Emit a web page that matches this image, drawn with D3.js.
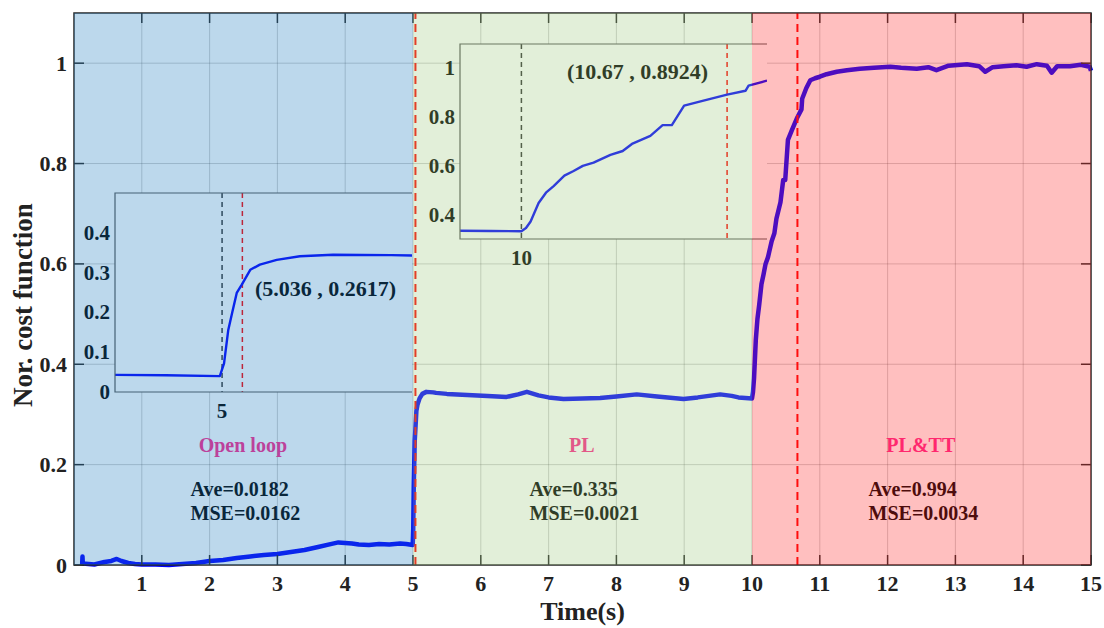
<!DOCTYPE html>
<html>
<head>
<meta charset="utf-8">
<script src="https://cdn.jsdelivr.net/npm/d3@7"></script>
<style>
  body { margin: 0; background: #fff; }
  text { font-family: "Liberation Serif", "Times New Roman", serif; font-weight: bold; }
</style>
</head>
<body>
<svg id="chart" width="1104" height="628"></svg>
<script>
// --- data ---
const timeS = [0.12, 0.125, 0.13, 0.30, 0.45, 0.55, 0.63, 0.70, 0.80, 0.90, 1.0, 1.2, 1.4, 1.6, 1.8, 2.0, 2.2, 2.4, 2.6, 2.8, 3.0,
  3.2, 3.4, 3.6, 3.8, 3.9, 4.0, 4.1, 4.2, 4.35, 4.5, 4.65, 4.81, 4.9, 4.996, 5.0035, 5.011, 5.018, 5.026, 5.035, 5.05,
  5.067, 5.097, 5.138, 5.197, 5.3, 5.34, 5.5, 5.8, 6.1, 6.38, 6.55, 6.68, 6.85, 7.0, 7.22, 7.5, 7.76, 8.0, 8.3, 8.6,
  8.99, 9.2, 9.53, 9.7, 9.8, 9.9, 10.0, 10.015, 10.03, 10.056, 10.08, 10.105, 10.14, 10.17, 10.2, 10.235, 10.29, 10.33,
  10.36, 10.42, 10.46, 10.49, 10.53, 10.59, 10.67, 10.73, 10.74, 10.80, 10.86, 10.93, 11.0, 11.1, 11.25, 11.4, 11.59,
  11.8, 12.04, 12.2, 12.43, 12.6, 12.72, 12.9, 13.17, 13.35, 13.44, 13.55, 13.71, 13.9, 14.05, 14.2, 14.35, 14.42, 14.5,
  14.69, 14.85, 14.98, 15.0];
const costValue = [0.0, 0.017, 0.003, 0.001, 0.006, 0.008, 0.012, 0.008, 0.004, 0.002, 0.001, 0.001, 0.0, 0.002, 0.004, 0.008, 0.010, 0.014, 0.017, 0.020, 0.022,
  0.026, 0.030, 0.036, 0.042, 0.045, 0.044, 0.043, 0.041, 0.040, 0.042, 0.041, 0.043, 0.042, 0.040, 0.072, 0.156, 0.200, 0.249, 0.270, 0.307,
  0.320, 0.332, 0.341, 0.345, 0.344, 0.343, 0.341, 0.339, 0.337, 0.335, 0.340, 0.345, 0.338, 0.334, 0.331, 0.332, 0.333, 0.336, 0.340, 0.336,
  0.331, 0.334, 0.340, 0.337, 0.334, 0.333, 0.332, 0.345, 0.372, 0.448, 0.490, 0.517, 0.560, 0.579, 0.600, 0.613, 0.645, 0.661,
  0.690, 0.723, 0.767, 0.767, 0.847, 0.867, 0.8924, 0.908, 0.929, 0.950, 0.966, 0.970, 0.973, 0.978, 0.983, 0.986, 0.989,
  0.991, 0.993, 0.991, 0.989, 0.992, 0.986, 0.995, 0.998, 0.994, 0.983, 0.992, 0.994, 0.996, 0.993, 0.998, 0.995, 0.981, 0.994,
  0.994, 0.997, 0.993, 0.985];

const xTicks = d3.range(1, 16);
const yTicks = [0, 0.2, 0.4, 0.6, 0.8, 1];
const phaseNames = ["Open loop", "PL", "PL&TT"];
const phaseStart = [0, 5, 10];
const phaseEnd = [5, 10, 15];
const phaseColors = ["#207dc0", "#9eca80", "#ff2a2a"];
const aveValues = ["Ave=0.0182", "Ave=0.335", "Ave=0.994"];
const mseValues = ["MSE=0.0162", "MSE=0.0021", "MSE=0.0034"];
const markerTimes = [5.036, 10.67];

// --- layout ---
const margin = { top: 13, right: 13, bottom: 63, left: 74 };
const width = 1104, height = 628;
const innerW = width - margin.left - margin.right;
const innerH = height - margin.top - margin.bottom;

const svg = d3.select("#chart");
const x = d3.scaleLinear().domain([0, 15]).range([margin.left, margin.left + innerW]);
const y = d3.scaleLinear().domain([0, 1.1]).range([margin.top + innerH, margin.top]);
const axisColor = "#262626";

const data = timeS.map((t, i) => ({ t: t, v: costValue[i] }));

// plot background
svg.append("rect").attr("x", x(0)).attr("y", y(1.1)).attr("width", innerW).attr("height", innerH).attr("fill", "#fff");

// grid
svg.append("g").selectAll("line").data(xTicks.slice(0, -1)).join("line")
  .attr("x1", d => x(d)).attr("x2", d => x(d)).attr("y1", y(0)).attr("y2", y(1.1))
  .attr("stroke", axisColor).attr("stroke-opacity", 0.22);
svg.append("g").selectAll("line").data(yTicks.slice(1)).join("line")
  .attr("x1", x(0)).attr("x2", x(15)).attr("y1", d => y(d)).attr("y2", d => y(d))
  .attr("stroke", axisColor).attr("stroke-opacity", 0.22);

// main curve
svg.append("path").datum(data)
  .attr("fill", "none").attr("stroke", "#0000ff").attr("stroke-width", 4.5)
  .attr("stroke-linejoin", "round")
  .attr("d", d3.line().x(d => x(d.t)).y(d => y(d.v)));

// vertical markers
svg.append("g").selectAll("line").data(markerTimes).join("line")
  .attr("x1", d => x(d)).attr("x2", d => x(d)).attr("y1", y(0)).attr("y2", y(1.1))
  .attr("stroke", "#ff0000").attr("stroke-width", 2).attr("stroke-dasharray", "8,5");

// phase texts
phaseNames.forEach((name, i) => {
  svg.append("text").attr("x", x(phaseStart[i] + 2.49)).attr("y", y(0.239))
    .attr("text-anchor", "middle").attr("dominant-baseline", "central")
    .attr("font-size", 20).attr("fill", "#ff288c").text(name);
  svg.append("text").attr("x", x(phaseStart[i] + 1.72)).attr("y", y(0.151))
    .attr("dominant-baseline", "central").attr("font-size", 20).attr("fill", "#000").text(aveValues[i]);
  svg.append("text").attr("x", x(phaseStart[i] + 1.72)).attr("y", y(0.103))
    .attr("dominant-baseline", "central").attr("font-size", 20).attr("fill", "#000").text(mseValues[i]);
});

// --- insets ---
function drawInset(box, xDom, yDom, yTickVals, xTickVal, marker, note, noteX, noteY) {
  const ix = d3.scaleLinear().domain(xDom).range([box.x0, box.x1]);
  const iy = d3.scaleLinear().domain(yDom).range([box.y1, box.y0]);
  const g = svg.append("g");
  const clipId = "clip" + xTickVal;
  g.append("clipPath").attr("id", clipId).append("rect")
    .attr("x", box.x0).attr("y", box.y0).attr("width", box.x1 - box.x0).attr("height", box.y1 - box.y0);
  g.append("rect").attr("x", box.x0).attr("y", box.y0).attr("width", box.x1 - box.x0).attr("height", box.y1 - box.y0)
    .attr("fill", "#fff");
  g.append("line").attr("x1", ix(xTickVal)).attr("x2", ix(xTickVal)).attr("y1", box.y0).attr("y2", box.y1)
    .attr("stroke", "#333").attr("stroke-width", 1.5).attr("stroke-dasharray", "5,4");
  g.append("line").attr("x1", ix(marker)).attr("x2", ix(marker)).attr("y1", box.y0).attr("y2", box.y1)
    .attr("stroke", "#ff0000").attr("stroke-width", 1.5).attr("stroke-dasharray", "5,4");
  g.append("path").datum(data.filter(d => d.t >= xDom[0] - 0.05 && d.t <= xDom[1] + 0.05))
    .attr("clip-path", `url(#${clipId})`)
    .attr("fill", "none").attr("stroke", "#0000ff").attr("stroke-width", 2.4).attr("stroke-linejoin", "round")
    .attr("d", d3.line().x(d => ix(d.t)).y(d => iy(d.v)));
  g.append("path")
    .attr("d", `M${box.x1},${box.y0}H${box.x0}V${box.y1}H${box.x1}`)
    .attr("fill", "none").attr("stroke", "#555").attr("stroke-width", 1.2);
  g.selectAll(".yl").data(yTickVals).join("text")
    .attr("x", box.x0 - 5).attr("y", d => iy(d)).attr("text-anchor", "end").attr("dominant-baseline", "central")
    .attr("font-size", 21).attr("fill", "#000").text(d => d3.format("~g")(d));
  g.append("text").attr("x", ix(xTickVal)).attr("y", box.y1 + 19)
    .attr("text-anchor", "middle").attr("dominant-baseline", "central")
    .attr("font-size", 21).attr("fill", "#000").text(xTickVal);
  g.append("text").attr("x", noteX).attr("y", noteY).attr("dominant-baseline", "central")
    .attr("font-size", 22).attr("fill", "#000").text(note);
}

drawInset({ x0: 115, x1: 412, y0: 193, y1: 392 }, [4.81, 5.337], [0, 0.5], [0, 0.1, 0.2, 0.3, 0.4], 5, 5.036,
  "(5.036 , 0.2617)", 255, 288);
drawInset({ x0: 460, x1: 767, y0: 44, y1: 239 }, [9.8, 10.8], [0.3, 1.1], [0.4, 0.6, 0.8, 1], 10, 10.67,
  "(10.67 , 0.8924)", 567, 71);

// axes box and inward ticks
svg.append("rect").attr("x", x(0)).attr("y", y(1.1)).attr("width", innerW).attr("height", innerH)
  .attr("fill", "none").attr("stroke", axisColor).attr("stroke-width", 1.5);
const tickLen = 10;
svg.append("g").selectAll("line").data(xTicks).join("line")
  .attr("x1", d => x(d)).attr("x2", d => x(d)).attr("y1", y(0)).attr("y2", y(0) - tickLen)
  .attr("stroke", axisColor).attr("stroke-width", 1.5);
svg.append("g").selectAll("line").data(xTicks).join("line")
  .attr("x1", d => x(d)).attr("x2", d => x(d)).attr("y1", y(1.1)).attr("y2", y(1.1) + tickLen)
  .attr("stroke", axisColor).attr("stroke-width", 1.5);
svg.append("g").selectAll("line").data(yTicks).join("line")
  .attr("x1", x(0)).attr("x2", x(0) + tickLen).attr("y1", d => y(d)).attr("y2", d => y(d))
  .attr("stroke", axisColor).attr("stroke-width", 1.5);
svg.append("g").selectAll("line").data(yTicks).join("line")
  .attr("x1", x(15)).attr("x2", x(15) - tickLen).attr("y1", d => y(d)).attr("y2", d => y(d))
  .attr("stroke", axisColor).attr("stroke-width", 1.5);

// translucent phase patches over everything inside the axes
svg.append("g").selectAll("rect").data(phaseStart).join("rect")
  .attr("x", d => x(d)).attr("y", y(1.1))
  .attr("width", (d, i) => x(phaseEnd[i]) - x(d)).attr("height", innerH)
  .attr("fill", (d, i) => phaseColors[i]).attr("fill-opacity", 0.3);

// tick labels
svg.append("g").selectAll("text").data(xTicks).join("text")
  .attr("x", d => x(d)).attr("y", y(0) + 18).attr("text-anchor", "middle").attr("dominant-baseline", "central")
  .attr("font-size", 22).attr("fill", "#222").text(d => d);
svg.append("g").selectAll("text").data(yTicks).join("text")
  .attr("x", x(0) - 7).attr("y", d => y(d)).attr("text-anchor", "end").attr("dominant-baseline", "central")
  .attr("font-size", 22).attr("fill", "#222").text(d => d3.format("~g")(d));

// axis titles
svg.append("text").attr("x", x(7.5)).attr("y", 611).attr("text-anchor", "middle").attr("dominant-baseline", "central")
  .attr("font-size", 26).attr("fill", "#222").text("Time(s)");
svg.append("text").attr("transform", `translate(23,305) rotate(-90)`)
  .attr("text-anchor", "middle").attr("dominant-baseline", "central")
  .attr("font-size", 27).attr("fill", "#222").text("Nor. cost function");
</script>
</body>
</html>
